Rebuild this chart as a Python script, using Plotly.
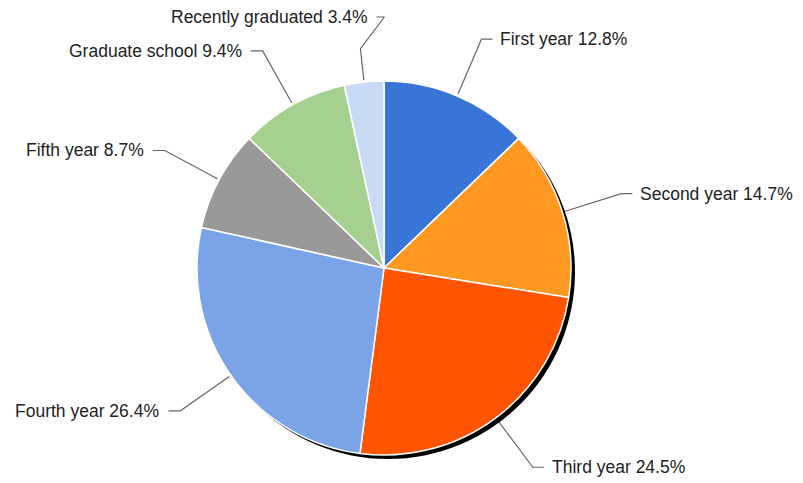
import math
import plotly.graph_objects as go

labels = ["First year", "Second year", "Third year", "Fourth year",
          "Fifth year", "Graduate school", "Recently graduated"]
shares = [12.8, 14.7, 24.5, 26.4, 8.7, 9.4, 3.4]
colors = ["#3875d7", "#ff9922", "#ff5500", "#7ba3e8",
          "#999999", "#a6d08f", "#c9daf5"]

W, H = 803, 483
off = 8  # page body margin
cx, cy, r = 384 - off, 268 - off, 187
shadow = 4

def dom(x0, y0):
    return dict(x=[(x0 - r) / W, (x0 + r) / W],
                y=[1 - (y0 + r) / H, 1 - (y0 - r) / H])

fig = go.Figure()

# shadow disc
fig.add_trace(go.Pie(values=[1], marker=dict(colors=["#000000"]),
                     textinfo="none", hoverinfo="skip", sort=False,
                     showlegend=False, domain=dom(cx + shadow, cy + shadow)))

fig.add_trace(go.Pie(labels=labels, values=shares, sort=False,
                     direction="clockwise", rotation=0,
                     marker=dict(colors=colors, line=dict(color="white", width=1.5)),
                     textinfo="none", showlegend=False, domain=dom(cx, cy)))

# leader lines and labels
total = sum(shares)
acc = 0
for name, v in zip(labels, shares):
    mid = (acc + v / 2) / total * 2 * math.pi
    acc += v
    dx, dy = math.sin(mid), -math.cos(mid)
    sx, sy = cx + dx * (r + 2), cy + dy * (r + 2)
    ex, ey = cx + dx * 1.33 * r, cy + dy * 1.33 * r
    right = dx >= 0
    xs, ys = [sx], [sy]
    if name == "Recently graduated":
        ex, ey = cx + dx * 1.18 * r, cy + dy * 1.18 * r
        xs.append(ex); ys.append(ey)
        ex, ey = ex + 24, 17 - off
        xs.append(ex); ys.append(ey)
        hx = ex - 8
        tx = hx - 6
    else:
        xs.append(ex); ys.append(ey)
        hx = ex + 11 if right else ex - 12
        tx = hx + 6 if right else hx - 7
    xs.append(hx); ys.append(ey)
    fig.add_trace(go.Scatter(x=xs, y=ys, mode="lines", hoverinfo="skip",
                             line=dict(color="#666666", width=1.2), showlegend=False))
    anchor = "left" if (right and name != "Recently graduated") else "right"
    fig.add_annotation(x=tx, y=ey, xref="x", yref="y", text=f"{name} {v}%",
                       showarrow=False, xanchor=anchor, yanchor="middle",
                       font=dict(family="Liberation Sans, Arial", size=17.5, color="#222222"))

fig.update_layout(
    width=W, height=H, margin=dict(l=0, r=0, t=0, b=0),
    paper_bgcolor="white", plot_bgcolor="white",
    xaxis=dict(range=[0, W], visible=False, fixedrange=True),
    yaxis=dict(range=[H, 0], visible=False, fixedrange=True),
)

fig.write_html("out.html")
